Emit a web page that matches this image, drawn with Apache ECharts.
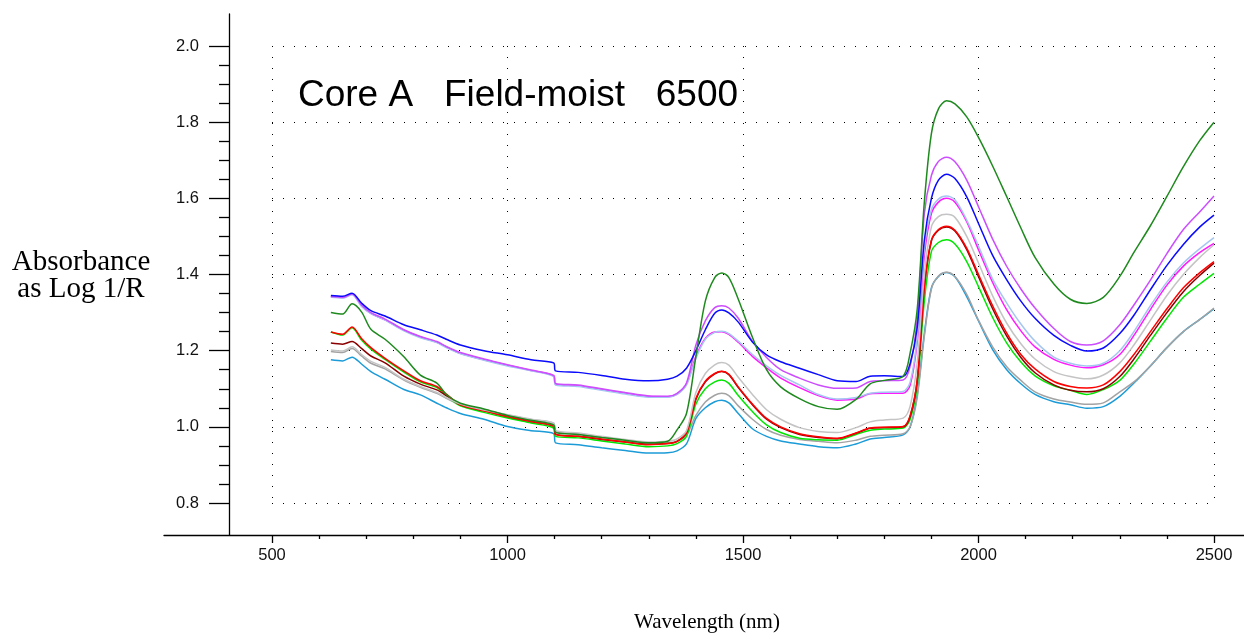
<!DOCTYPE html>
<html>
<head>
<meta charset="utf-8">
<script src="https://cdn.jsdelivr.net/npm/echarts@6/dist/echarts.min.js"></script>
<style>
html,body{margin:0;padding:0;background:#fff;}
#chart{width:1244px;height:641px;}
</style>
</head>
<body>
<div id="chart"></div>
<script>
// Wavelength (nm) sample positions
const WAVELENGTH = [625,650,670,690,710,740,780,815,850,870,900,950,1000,1050,1098,1102,1150,1200,1250,1300,1340,1360,1380,1400,1420,1440,1455,1470,1490,1520,1550,1580,1620,1660,1700,1740,1770,1800,1840,1855,1870,1885,1900,1915,1932,1950,1975,2000,2030,2060,2090,2120,2160,2195,2230,2265,2300,2330,2365,2400,2435,2470,2500];

const darkGreen = [1.300,1.296,1.323,1.302,1.256,1.230,1.184,1.136,1.115,1.085, 1.062,1.047,1.030,1.017,1.005,0.985,0.980,0.972,0.965,0.958, 0.962,0.992,1.035,1.185,1.330,1.392,1.404,1.392,1.335,1.235, 1.150,1.105,1.074,1.053,1.046,1.072,1.113,1.122,1.133,1.195, 1.310,1.590,1.770,1.835,1.856,1.848,1.814,1.760,1.685,1.604, 1.522,1.445,1.375,1.335,1.324,1.340,1.395,1.458,1.528,1.605, 1.683,1.752,1.800];
const violet = [1.342,1.340,1.349,1.320,1.300,1.283,1.255,1.237,1.224,1.211, 1.195,1.178,1.163,1.149,1.135,1.114,1.110,1.100,1.090,1.081, 1.080,1.088,1.115,1.215,1.278,1.313,1.318,1.312,1.285,1.225, 1.182,1.150,1.128,1.110,1.101,1.102,1.119,1.121,1.123,1.160, 1.285,1.560,1.660,1.697,1.708,1.696,1.648,1.578,1.493,1.421, 1.362,1.312,1.258,1.224,1.215,1.226,1.268,1.320,1.385,1.455, 1.518,1.565,1.606];
const blue = [1.345,1.343,1.351,1.325,1.305,1.291,1.268,1.255,1.241,1.230, 1.215,1.200,1.189,1.176,1.168,1.147,1.143,1.135,1.125,1.121, 1.125,1.133,1.154,1.200,1.255,1.298,1.307,1.299,1.275,1.223, 1.189,1.171,1.154,1.137,1.121,1.119,1.133,1.134,1.132,1.167, 1.262,1.490,1.600,1.648,1.663,1.652,1.604,1.534,1.450,1.386, 1.330,1.285,1.240,1.214,1.199,1.207,1.245,1.293,1.360,1.424, 1.479,1.525,1.556];
const lightBlue = [1.340,1.338,1.347,1.316,1.297,1.280,1.252,1.234,1.221,1.208, 1.192,1.175,1.160,1.147,1.132,1.110,1.106,1.096,1.086,1.078, 1.078,1.085,1.110,1.180,1.230,1.248,1.251,1.245,1.225,1.190, 1.160,1.135,1.110,1.085,1.073,1.077,1.088,1.091,1.093,1.118, 1.235,1.470,1.570,1.598,1.606,1.596,1.543,1.475,1.388,1.325, 1.270,1.225,1.183,1.167,1.160,1.167,1.200,1.250,1.318,1.380, 1.430,1.468,1.497];
const magenta = [1.342,1.339,1.348,1.318,1.298,1.281,1.254,1.236,1.222,1.210, 1.193,1.176,1.162,1.148,1.134,1.112,1.108,1.098,1.088,1.080, 1.079,1.086,1.112,1.185,1.232,1.249,1.250,1.243,1.222,1.185, 1.155,1.128,1.103,1.082,1.070,1.073,1.087,1.088,1.088,1.110, 1.225,1.450,1.560,1.590,1.600,1.590,1.539,1.465,1.379,1.307, 1.252,1.210,1.177,1.162,1.155,1.163,1.190,1.240,1.308,1.372, 1.422,1.458,1.482];
const silver = [1.202,1.199,1.210,1.190,1.172,1.156,1.125,1.106,1.090,1.077, 1.060,1.044,1.032,1.020,1.010,0.990,0.984,0.975,0.967,0.960, 0.962,0.968,0.990,1.090,1.140,1.163,1.169,1.162,1.130,1.085, 1.045,1.020,0.998,0.988,0.985,0.998,1.013,1.018,1.023,1.055, 1.170,1.400,1.525,1.552,1.558,1.550,1.500,1.430,1.344,1.272, 1.218,1.178,1.145,1.132,1.126,1.136,1.168,1.215,1.280,1.345, 1.400,1.445,1.478];
const red = [1.249,1.243,1.262,1.232,1.208,1.180,1.147,1.121,1.106,1.086, 1.058,1.042,1.027,1.014,1.002,0.980,0.975,0.968,0.960,0.953, 0.956,0.962,0.985,1.075,1.120,1.140,1.146,1.138,1.105,1.060, 1.022,1.000,0.982,0.974,0.970,0.984,0.997,0.999,1.001,1.030, 1.125,1.370,1.490,1.518,1.527,1.516,1.469,1.400,1.318,1.246, 1.190,1.152,1.119,1.106,1.102,1.110,1.145,1.190,1.250,1.310, 1.365,1.405,1.434];
const maroon = [1.220,1.217,1.224,1.206,1.186,1.168,1.133,1.112,1.097,1.082, 1.058,1.042,1.027,1.014,1.002,0.981,0.975,0.967,0.960,0.954, 0.956,0.962,0.984,1.072,1.118,1.139,1.145,1.137,1.103,1.058, 1.020,0.998,0.980,0.972,0.969,0.983,0.996,0.998,1.000,1.028, 1.122,1.365,1.488,1.516,1.525,1.514,1.465,1.394,1.310,1.238, 1.182,1.142,1.110,1.096,1.092,1.100,1.132,1.178,1.240,1.300, 1.355,1.398,1.430];
const green = [1.249,1.241,1.260,1.228,1.204,1.177,1.144,1.118,1.103,1.082, 1.055,1.038,1.023,1.010,0.997,0.975,0.971,0.963,0.955,0.948, 0.950,0.956,0.975,1.060,1.100,1.118,1.123,1.114,1.082,1.040, 1.005,0.985,0.970,0.966,0.965,0.980,0.991,0.994,0.997,1.020, 1.110,1.330,1.460,1.484,1.491,1.480,1.434,1.368,1.287,1.220, 1.170,1.134,1.108,1.096,1.085,1.098,1.122,1.165,1.225,1.285, 1.340,1.375,1.403];
const gray = [1.198,1.195,1.206,1.186,1.167,1.152,1.123,1.104,1.088,1.075, 1.058,1.043,1.031,1.019,1.009,0.988,0.982,0.973,0.965,0.957, 0.958,0.962,0.978,1.030,1.065,1.083,1.088,1.082,1.055,1.020, 0.993,0.978,0.967,0.962,0.958,0.965,0.975,0.978,0.982,1.000, 1.078,1.238,1.362,1.396,1.406,1.395,1.348,1.280,1.210,1.158, 1.122,1.092,1.073,1.065,1.059,1.063,1.092,1.118,1.160,1.208, 1.250,1.282,1.312];
const cyan = [1.176,1.173,1.183,1.165,1.145,1.125,1.098,1.084,1.062,1.050, 1.035,1.020,1.001,0.990,0.982,0.958,0.953,0.945,0.938,0.931, 0.932,0.937,0.955,1.022,1.050,1.066,1.070,1.063,1.035,0.995, 0.975,0.963,0.955,0.948,0.945,0.955,0.968,0.972,0.979,1.000, 1.085,1.245,1.365,1.395,1.405,1.394,1.342,1.278,1.203,1.150, 1.113,1.085,1.066,1.058,1.049,1.053,1.080,1.115,1.160,1.208, 1.250,1.282,1.310];

const X_TICKS = [500, 1000, 1500, 2000, 2500];
const Y_TICKS = [0.8, 1.0, 1.2, 1.4, 1.6, 1.8, 2.0];
const TITLE_TEXT = 'Core A   Field-moist   6500';
const Y_NAME = 'Absorbance\nas Log 1/R';
const X_NAME = 'Wavelength (nm)';

const SERIES = [
  {name: 'cyan', values: cyan, color: '#1b9bd7'},
  {name: 'gray', values: gray, color: '#a3a3a3'},
  {name: 'green', values: green, color: '#00e600'},
  {name: 'maroon', values: maroon, color: '#8b0000'},
  {name: 'red', values: red, color: '#ff0000'},
  {name: 'silver', values: silver, color: '#c4c4c4'},
  {name: 'magenta', values: magenta, color: '#ff1aff'},
  {name: 'lightBlue', values: lightBlue, color: '#a6c6f2'},
  {name: 'violet', values: violet, color: '#cc4dff'},
  {name: 'blue', values: blue, color: '#0a0aff'},
  {name: 'darkGreen', values: darkGreen, color: '#1e8a1e'}
];

const chart = echarts.init(document.getElementById('chart'), null, {renderer: 'canvas'});
const SANS = '"Liberation Sans", Arial, sans-serif';
const SERIF = '"Liberation Serif", "Times New Roman", serif';
const dots = {type: [1, 10], color: '#000', width: 1};

chart.setOption({
  animation: false,
  backgroundColor: '#fff',
  grid: [
    {left: 164, right: 0, top: 14, bottom: 106},
    {left: 272, right: 30, top: 46, bottom: 138}
  ],
  xAxis: [
    {type: 'value', gridIndex: 0, min: 0, max: 1,
     axisLine: {show: true, lineStyle: {color: '#000', width: 1.3}},
     axisTick: {show: false}, axisLabel: {show: false}, splitLine: {show: false}},
    {type: 'value', gridIndex: 1, min: X_TICKS[0], max: X_TICKS[X_TICKS.length - 1], interval: 500,
     position: 'bottom', offset: 32,
     axisLine: {show: false},
     axisTick: {show: true, length: 8, lineStyle: {color: '#000', width: 1.3}},
     minorTick: {show: true, splitNumber: 5, length: 4, lineStyle: {color: '#000', width: 1.3}},
     axisLabel: {show: true, fontSize: 16.5, color: '#111', fontFamily: SANS, margin: 12,
                 formatter: v => String(Math.round(v))},
     splitLine: {show: true, lineStyle: dots},
     minorSplitLine: {show: false}}
  ],
  yAxis: [
    {type: 'value', gridIndex: 0, min: 0, max: 1, position: 'left', offset: -65,
     axisLine: {show: true, lineStyle: {color: '#000', width: 1.3}},
     axisTick: {show: false}, axisLabel: {show: false}, splitLine: {show: false}},
    {type: 'value', gridIndex: 1, min: Y_TICKS[0], max: Y_TICKS[Y_TICKS.length - 1], interval: 0.2,
     position: 'left', offset: 43,
     axisLine: {show: false},
     axisTick: {show: true, length: 20, lineStyle: {color: '#000', width: 1.3}},
     minorTick: {show: true, splitNumber: 4, length: 10, lineStyle: {color: '#000', width: 1.3}},
     axisLabel: {show: true, fontSize: 16.5, color: '#111', fontFamily: SANS, margin: 30,
                 formatter: v => Number(v).toFixed(1)},
     splitLine: {show: true, lineStyle: dots},
     minorSplitLine: {show: false}}
  ],
  graphic: [
    {type: 'text', left: 298, top: 77,
     style: {text: TITLE_TEXT, font: '37px ' + SANS, fill: '#000'}},
    {type: 'text', x: 81, y: 276,
     style: {text: Y_NAME, font: '29px ' + SERIF, fill: '#000', align: 'center', verticalAlign: 'middle', lineHeight: 27}},
    {type: 'text', x: 707, y: 622,
     style: {text: X_NAME, font: '21px ' + SERIF, fill: '#000', align: 'center', verticalAlign: 'middle'}}
  ],
  series: SERIES.map(s => ({
    type: 'line', name: s.name, xAxisIndex: 1, yAxisIndex: 1,
    showSymbol: false, symbol: 'none', smooth: 0.3, clip: false,
    lineStyle: {color: s.color, width: 1.5},
    itemStyle: {color: s.color},
    data: WAVELENGTH.map((w, i) => [w, s.values[i]])
  }))
});
</script>
</body>
</html>
